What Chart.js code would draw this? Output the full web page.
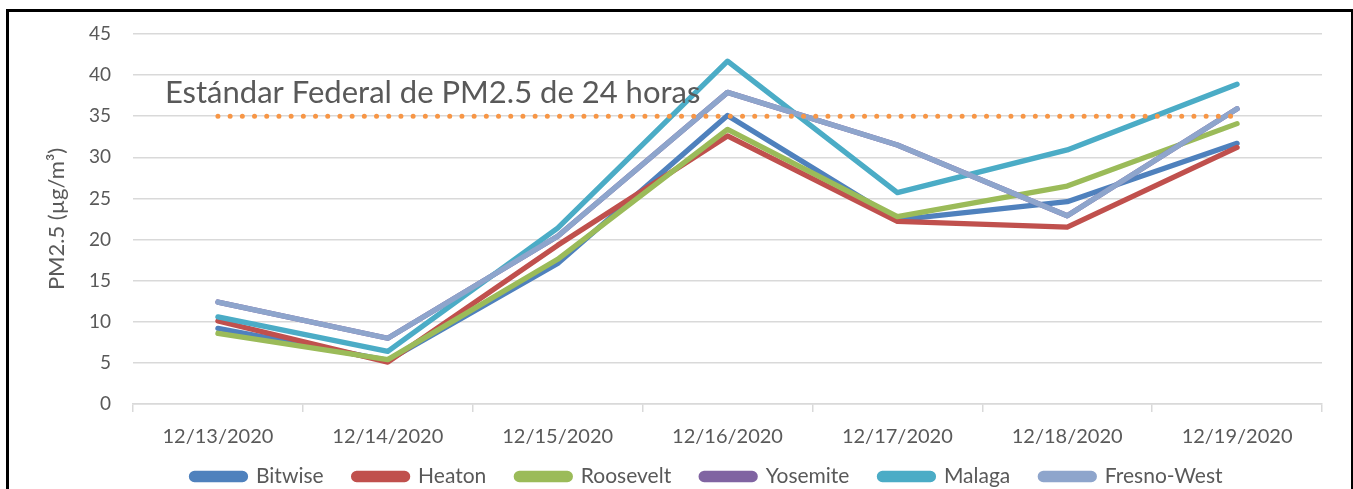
<!DOCTYPE html>
<html>
<head>
<meta charset="utf-8">
<script src="https://cdn.jsdelivr.net/npm/chart.js@4.4.0/dist/chart.umd.min.js"></script>
<style>
  body { margin: 0; background: #fff; }
  .frame { position: absolute; left: 6px; top: 9px; width: 1342px; height: 500px; border: 3px solid #000; }
  #pmChart { position: absolute; left: 0; top: 0; }
</style>
</head>
<body>
<div class="frame"></div>
<canvas id="pmChart" width="1353" height="489"></canvas>
<script>
// fechas (categorías)
const fechas = ['12/13/2020', '12/14/2020', '12/15/2020', '12/16/2020', '12/17/2020', '12/18/2020', '12/19/2020'];

// PM2.5 diario por estación (µg/m³)
const bitwise    = [9.2, 5.3, 17.1, 35.1, 22.4, 24.6, 31.7];
const heaton     = [10.1, 5.1, 19.3, 32.6, 22.2, 21.5, 31.2];
const roosevelt  = [8.6, 5.4, 17.6, 33.4, 22.8, 26.5, 34.1];
const yosemite   = [12.4, 8.0, 20.4, 37.9, 31.5, 22.9, 35.9];
const malaga     = [10.6, 6.4, 21.4, 41.7, 25.7, 30.9, 38.9];
const fresnoWest = [12.4, 8.0, 20.4, 37.9, 31.5, 22.9, 35.9];

// estándar federal de 24 horas
const estandar = [35, 35, 35, 35, 35, 35, 35];
const estandarTexto = 'Estándar Federal de PM2.5 de 24 horas';

const yTicks = [0, 5, 10, 15, 20, 25, 30, 35, 40, 45];

const gris = '#595959';
const font = 'Lato';

// las series posteriores se dibujan encima (como en Excel)
function serie(label, data, color, orden) {
    return {
        label: label,
        data: data,
        borderColor: color,
        backgroundColor: color,
        borderWidth: 5.3,
        pointRadius: 0,
        tension: 0,
        borderJoinStyle: 'round',
        borderCapStyle: 'round',
        order: orden
    };
}

// texto del estándar encima de la línea punteada
const etiquetaEstandar = {
    id: 'etiquetaEstandar',
    afterDatasetsDraw(chart) {
        const { ctx, scales } = chart;
        const x = scales.x.getPixelForValue(0) - 53;
        const y = scales.y.getPixelForValue(36.6);
        ctx.save();
        ctx.font = '31px ' + font;
        ctx.fillStyle = gris;
        ctx.textBaseline = 'alphabetic';
        ctx.fillText(estandarTexto, x, y);
        ctx.restore();
    }
};

// leyenda más baja y algo a la derecha; el padding de 30 solo separa los elementos
const leyendaCompacta = {
    id: 'leyendaCompacta',
    afterInit(chart) {
        const legend = chart.legend;
        const fitOriginal = legend.fit;
        legend.fit = function () {
            fitOriginal.call(this);
            this.height = 39;
        };
    },
    afterLayout(chart) {
        const legend = chart.legend;
        legend.top -= 14;
        legend.bottom = chart.height;
        legend.height = legend.bottom - legend.top;
        legend.left += 46;
        legend.right += 46;
    }
};

const ctx = document.getElementById('pmChart');

new Chart(ctx, {
    type: 'line',
    data: {
        labels: fechas,
        datasets: [
            serie('Bitwise', bitwise, '#4F81BD', 6),
            serie('Heaton', heaton, '#C0504D', 5),
            serie('Roosevelt', roosevelt, '#9BBB59', 4),
            serie('Yosemite', yosemite, '#8064A2', 3),
            serie('Malaga', malaga, '#4BACC6', 2),
            serie('Fresno-West', fresnoWest, '#8EA5CC', 1),
            {
                label: 'estandar',
                data: estandar,
                borderColor: '#F79646',
                borderWidth: 5,
                borderDash: [0, 12.2],
                borderCapStyle: 'round',
                pointRadius: 0,
                order: 0
            }
        ]
    },
    options: {
        responsive: false,
        animation: false,
        layout: { padding: { top: 34, right: 31, left: 0, bottom: 0 } },
        plugins: {
            tooltip: { enabled: false },
            legend: {
                position: 'bottom',
                labels: {
                    filter: item => item.text !== 'estandar',
                    sort: (a, b) => a.datasetIndex - b.datasetIndex,
                    boxWidth: 54,
                    boxHeight: 6,
                    useBorderRadius: true,
                    borderRadius: 3,
                    padding: 30,
                    color: gris,
                    font: { family: font, size: 21 }
                }
            }
        },
        scales: {
            x: {
                offset: true,
                grid: {
                    offset: true,
                    drawOnChartArea: false,
                    drawTicks: true,
                    tickLength: 8,
                    color: '#D9D9D9',
                    lineWidth: 1.5
                },
                border: { color: '#D9D9D9', width: 1.5 },
                ticks: {
                    color: gris,
                    padding: 13,
                    maxRotation: 0,
                    font: { family: font, size: 20 }
                },
                afterFit(scale) { scale.height = 46; }
            },
            y: {
                min: 0,
                max: 45,
                afterBuildTicks(scale) { scale.ticks = yTicks.map(v => ({ value: v })); },
                grid: { color: '#D9D9D9', lineWidth: 1.5, drawTicks: false },
                border: { display: false },
                ticks: {
                    color: gris,
                    padding: 22,
                    font: { family: font, size: 19 }
                },
                title: {
                    display: true,
                    text: 'PM2.5 (µg/m³)',
                    color: gris,
                    padding: { top: 44, bottom: 0 },
                    font: { family: font, size: 22 }
                },
                afterFit(scale) { scale.width = 133; }
            }
        }
    },
    plugins: [etiquetaEstandar, leyendaCompacta]
});
</script>
</body>
</html>
